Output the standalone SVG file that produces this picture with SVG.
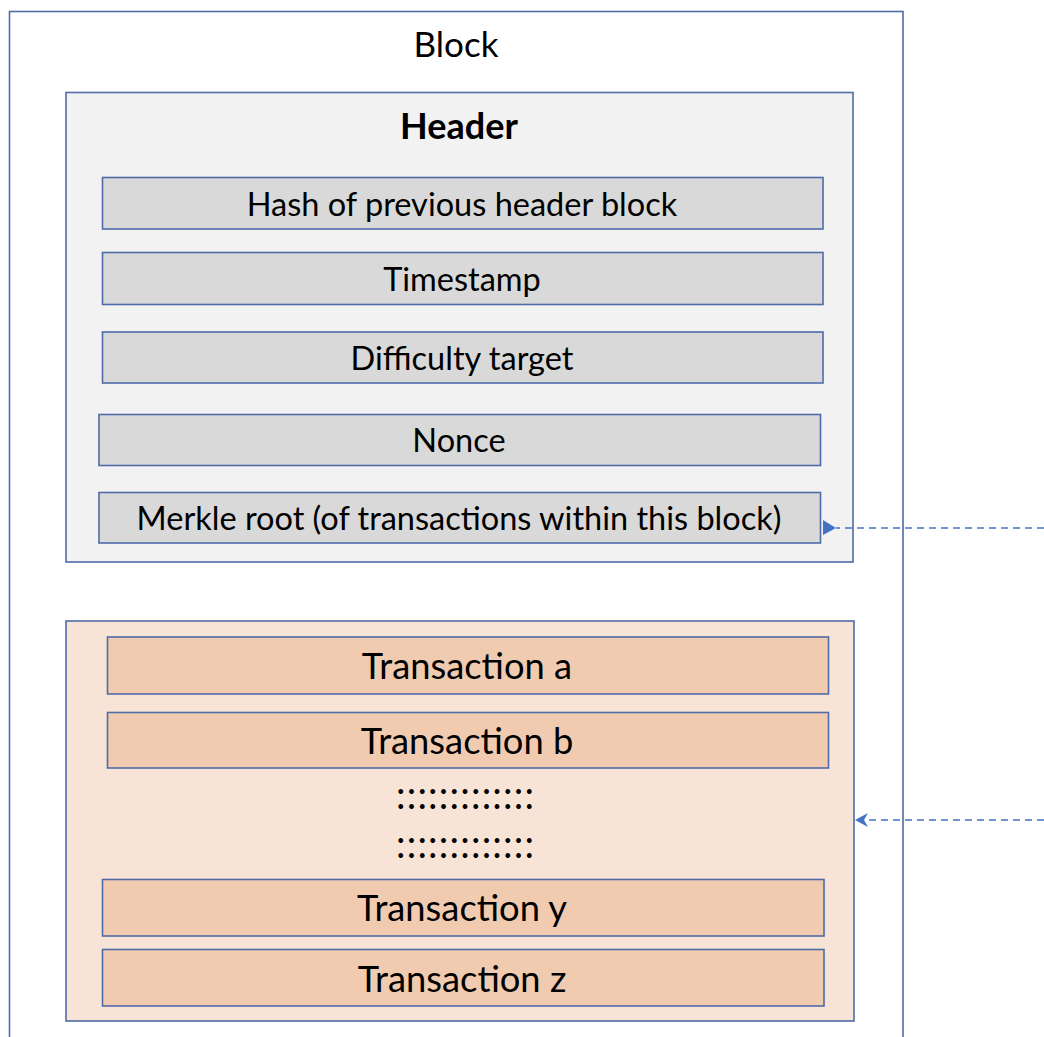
<svg xmlns="http://www.w3.org/2000/svg" width="1044" height="1037" viewBox="0 0 1044 1037">
  <style>
    .frame { fill: #ffffff; stroke: #4f6ba8; stroke-width: 1.6; }
    .panel-h { fill: #f2f2f2; stroke: #4f6ba8; stroke-width: 1.6; }
    .panel-t { fill: #f8e4d7; stroke: #4f6ba8; stroke-width: 1.6; }
    .field { fill: #d9d9d9; stroke: #4f6ba8; stroke-width: 1.6; }
    .tx { fill: #f0cbb0; stroke: #4f6ba8; stroke-width: 1.6; }
    text { font-family: Lato, "Liberation Sans", sans-serif; fill: #000000; text-anchor: middle; }
    .title { font-size: 35px; }
    .hdr { font-size: 36px; font-weight: bold; }
    .lbl { font-size: 32.5px; }
    .txl { font-size: 36.3px; }
    .dots { font-size: 38px; text-anchor: start; }
    .link { fill: none; stroke: #4472c4; stroke-width: 1.6; stroke-dasharray: 7 5; }
    .head { fill: #4472c4; stroke: none; }
  </style>

  <!-- outer block container (open at the bottom) -->
  <g id="block">
    <rect class="frame" x="9.5" y="11.5" width="893.5" height="1040"/>
    <text class="title" x="456" y="57">Block</text>
  </g>

  <!-- header section -->
  <g id="header">
    <rect class="panel-h" x="66" y="92.5" width="787" height="469.5"/>
    <text class="hdr" x="459" y="139">Header</text>
  </g>
  <g id="prev-hash">
    <rect class="field" x="102.5" y="177.5" width="720.5" height="51.5"/>
    <text class="lbl" x="462" y="216">Hash of previous header block</text>
  </g>
  <g id="timestamp">
    <rect class="field" x="102.5" y="252.5" width="720.5" height="52"/>
    <text class="lbl" x="462" y="291">Timestamp</text>
  </g>
  <g id="difficulty">
    <rect class="field" x="102.5" y="332" width="720.5" height="51"/>
    <text class="lbl" x="462" y="370">Difficulty target</text>
  </g>
  <g id="nonce">
    <rect class="field" x="99" y="414.5" width="721.5" height="51"/>
    <text class="lbl" x="459" y="452">Nonce</text>
  </g>
  <g id="merkle-root">
    <rect class="field" x="99" y="492.5" width="721.5" height="50.5"/>
    <text class="lbl" x="459" y="530">Merkle root (of transactions within this block)</text>
  </g>

  <!-- transactions section -->
  <g id="transactions">
    <rect class="panel-t" x="66" y="621" width="788" height="400"/>
    <text class="dots" x="396" y="809" textLength="138" lengthAdjust="spacing">:::::::::::::</text>
    <text class="dots" x="396" y="858" textLength="138" lengthAdjust="spacing">:::::::::::::</text>
  </g>
  <g id="tx-a">
    <rect class="tx" x="107.5" y="637" width="721" height="57"/>
    <text class="txl" x="467" y="679">Transaction a</text>
  </g>
  <g id="tx-b">
    <rect class="tx" x="107.5" y="712.5" width="721" height="55.5"/>
    <text class="txl" x="467" y="754">Transaction b</text>
  </g>
  <g id="tx-y">
    <rect class="tx" x="102.5" y="879.5" width="721.5" height="56.5"/>
    <text class="txl" x="462" y="921">Transaction y</text>
  </g>
  <g id="tx-z">
    <rect class="tx" x="102.5" y="949.5" width="721.5" height="56.5"/>
    <text class="txl" x="462" y="992">Transaction z</text>
  </g>

  <!-- incoming dashed links from the right -->
  <g id="connectors">
    <line class="link" x1="1044" y1="528" x2="836" y2="528"/>
    <polygon class="head" points="823,520 823,535 836,528"/>
    <line class="link" x1="1044" y1="820" x2="864" y2="820"/>
    <path class="head" d="M855,820 L868,813 L864,820 L868,827 Z"/>
  </g>
</svg>
